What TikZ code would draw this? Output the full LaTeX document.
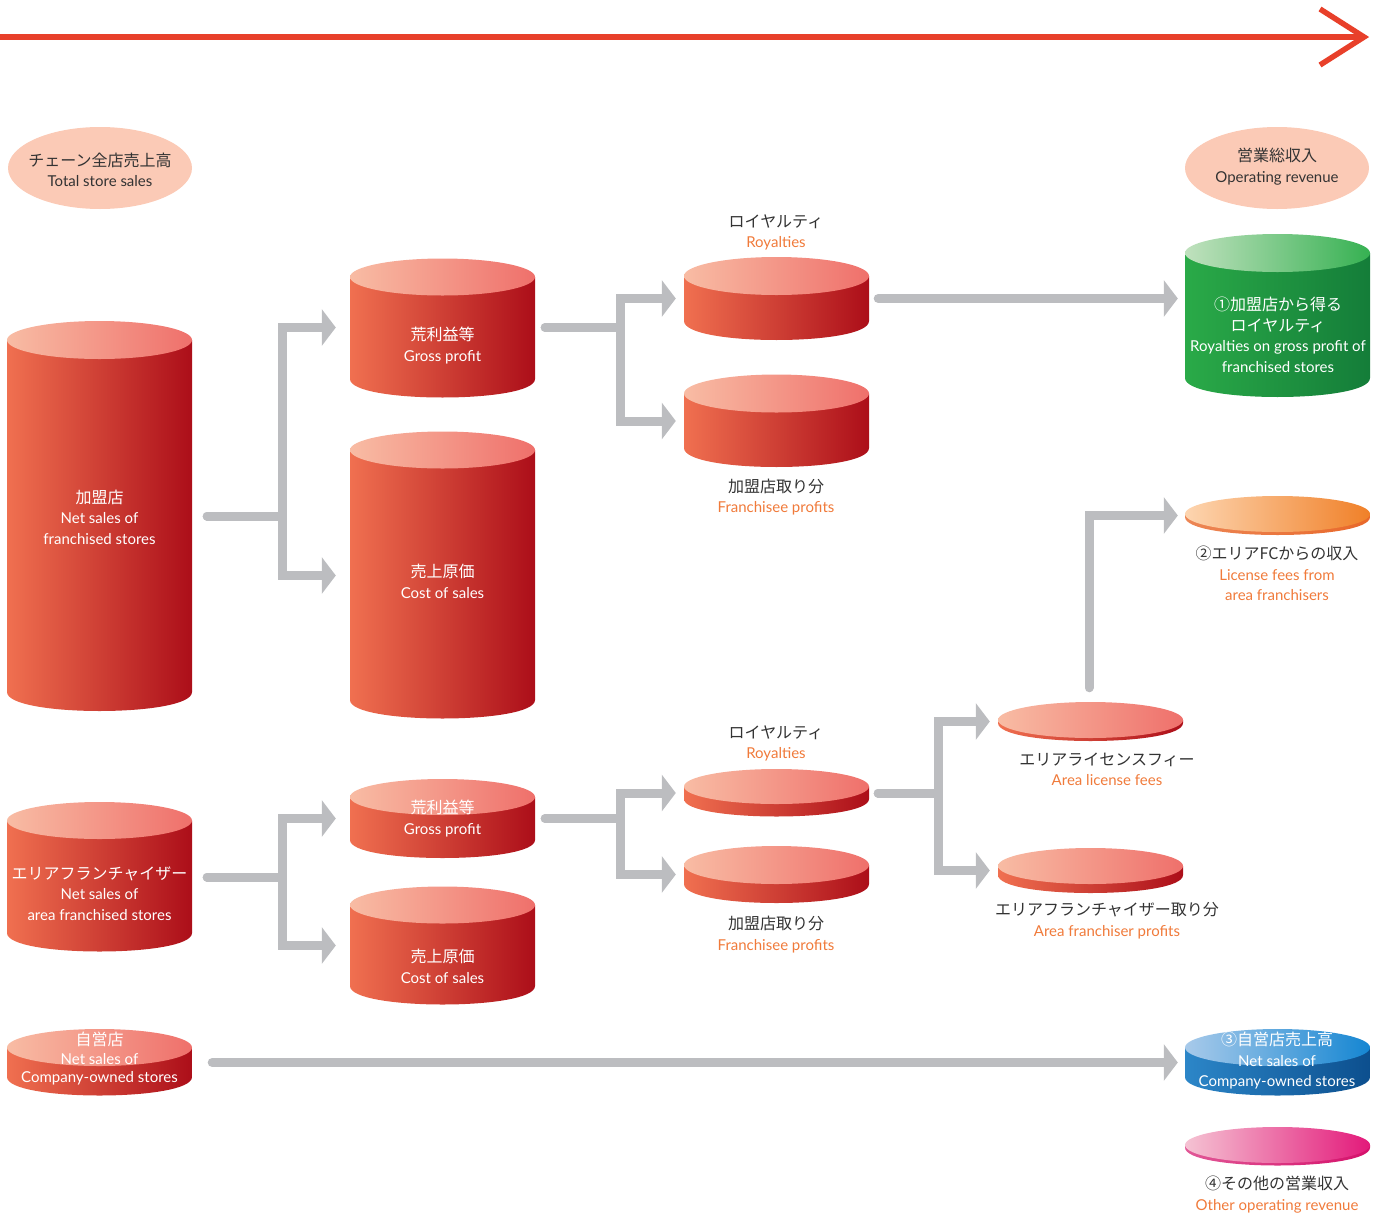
\documentclass[tikz,border=0pt]{standalone}
\usepackage{fontspec}
\setmainfont{Lato}
\newfontfamily\jp{Noto Sans CJK JP}
\usetikzlibrary{arrows.meta,shapes.geometric,calc}
\definecolor{redL}{HTML}{F07050}
\definecolor{redM}{HTML}{D6442F}
\definecolor{redR}{HTML}{AC0E19}
\definecolor{redTL}{HTML}{F8BCA4}
\definecolor{redTR}{HTML}{EF706B}
\definecolor{grnL}{HTML}{2AAA48}
\definecolor{grnR}{HTML}{147D39}
\definecolor{grnTL}{HTML}{C0E1BE}
\definecolor{grnTR}{HTML}{36B152}
\definecolor{bluL}{HTML}{2C86C8}
\definecolor{bluR}{HTML}{0C4F8E}
\definecolor{bluTL}{HTML}{A8CAEA}
\definecolor{bluTR}{HTML}{1586D2}
\definecolor{orTL}{HTML}{FDD5B0}
\definecolor{orTR}{HTML}{F08028}
\definecolor{orE}{HTML}{E8682A}
\definecolor{pkTL}{HTML}{F5C3D3}
\definecolor{pkTR}{HTML}{E3197A}
\definecolor{pkE}{HTML}{D4106A}
\definecolor{peach}{HTML}{FBCAB6}
\definecolor{cgray}{HTML}{BCBDC0}
\definecolor{topred}{HTML}{E8402A}
\definecolor{dark}{HTML}{333333}
\definecolor{orng}{HTML}{F07A3A}
\newcommand\jtxt[1]{{\jp\fontsize{16}{20}\selectfont #1}}
% #1 x0, #2 x1, #3 top centre y, #4 bottom side y, #5 ry, #6 body style, #7 top style
\newcommand\mycyl[7]{%
  \path[#6] ({#1},{#3}) -- ({#1},{#4}) .. controls ({#1},{#4+1.333*#5}) and ({#2},{#4+1.333*#5}) .. ({#2},{#4}) -- ({#2},{#3}) -- cycle;
  \path[#7] ({(#1+#2)/2},{#3}) ellipse [x radius={(#2-#1)/2}, y radius={#5}];
}
\begin{document}
\begin{tikzpicture}[x=1pt,y=-1pt,
  redbody/.style={left color=redL, middle color=redM, right color=redR},
  redtop/.style={left color=redTL, right color=redTR},
  grnbody/.style={left color=grnL, right color=grnR},
  grntop/.style={left color=grnTL, right color=grnTR},
  blubody/.style={left color=bluL, right color=bluR},
  blutop/.style={left color=bluTL, right color=bluTR},
  orbody/.style={left color=orE!80, right color=orE},
  ortop/.style={left color=orTL, right color=orTR},
  pkbody/.style={left color=pkE!70, right color=pkE},
  pktop/.style={left color=pkTL, right color=pkTR},
  shapebox/.style={inner sep=0, minimum width=185pt},
  lbl/.style={align=center, inner sep=0, font=\fontsize{15}{20.5}\selectfont},
  wlbl/.style={lbl, text=white},
  dlbl/.style={lbl, text=dark},
  peachell/.style={ellipse, fill=peach, minimum width=184pt, minimum height=82pt, inner sep=0},
  conn/.style={draw=cgray, line width=9pt, line cap=round, line join=miter, -{Triangle[length=14pt,width=36pt]}}
]
\useasboundingbox (0,0) rectangle (1384,1216);

% top arrow
\coordinate (ts) at (0,37);
\coordinate (te) at (1364,37);
\draw[topred, line width=5.5pt] (ts) -- (te);
\draw[topred, line width=5.5pt, line join=miter] (1320,9) -- (te) -- (1320,65);

% header ellipses
\node[peachell] (tot) at (100,168) {};
\node[dlbl] (ttot) at (100,170) {\jtxt{チェーン全店売上高}\\Total store sales};
\node[peachell] (opr) at (1277,168) {};
\node[dlbl] (topr) at (1277,166.5) {\jtxt{営業総収入}\\Operating revenue};

% shapes
\mycyl{7}{192}{340}{692}{19}{redbody}{redtop}
\node[shapebox, minimum height=390pt] (A) at (99.5,516) {};
\mycyl{350}{535}{277}{379}{18.5}{redbody}{redtop}
\node[shapebox, minimum height=139pt] (B) at (442.5,327.5) {};
\mycyl{350}{535}{450}{700}{18.5}{redbody}{redtop}
\node[shapebox, minimum height=287pt] (C) at (442.5,575.5) {};
\mycyl{684}{869}{276}{321}{19}{redbody}{redtop}
\node[shapebox, minimum height=83pt] (R1) at (776.5,298.5) {};
\mycyl{684}{869}{393.5}{448}{19}{redbody}{redtop}
\node[shapebox, minimum height=92pt] (F1) at (776.5,421) {};
\mycyl{1185}{1370}{253}{378}{19}{grnbody}{grntop}
\node[shapebox, minimum height=163pt] (Gr) at (1277.5,315.5) {};
\mycyl{1185}{1370}{514}{517}{18}{orbody}{ortop}
\node[shapebox, minimum height=39pt] (Or) at (1277.5,515.5) {};
\mycyl{7}{192}{820.5}{933}{18.5}{redbody}{redtop}
\node[shapebox, minimum height=150pt] (D) at (99.5,877) {};
\mycyl{350}{535}{797}{840}{18}{redbody}{redtop}
\node[shapebox, minimum height=79pt] (E) at (442.5,818.5) {};
\mycyl{350}{535}{905}{986}{18.5}{redbody}{redtop}
\node[shapebox, minimum height=117pt] (F) at (442.5,945.5) {};
\mycyl{7}{192}{1047.5}{1077}{18.5}{redbody}{redtop}
\node[shapebox, minimum height=67pt] (G) at (99.5,1062.5) {};
\mycyl{684}{869}{786.5}{799}{17.5}{redbody}{redtop}
\node[shapebox, minimum height=48pt] (R2) at (776.5,793) {};
\mycyl{684}{869}{865}{884}{19}{redbody}{redtop}
\node[shapebox, minimum height=57pt] (F2) at (776.5,874.5) {};
\mycyl{998}{1183}{720}{723}{18}{redbody}{redtop}
\node[shapebox, minimum height=39pt] (L) at (1090.5,721.5) {};
\mycyl{998}{1183}{866}{875}{18}{redbody}{redtop}
\node[shapebox, minimum height=45pt] (AF) at (1090.5,870.5) {};
\mycyl{1185}{1370}{1047.5}{1077}{18.5}{blubody}{blutop}
\node[shapebox, minimum height=67pt] (Bl) at (1277.5,1062.5) {};
\mycyl{1185}{1370}{1145}{1147.5}{18}{pkbody}{pktop}
\node[shapebox, minimum height=38pt] (Pk) at (1277.5,1146) {};

% labels
\node[wlbl] (tA) at (99.5,517) {\jtxt{加盟店}\\Net sales of\\franchised stores};
\node[wlbl] (tB) at (442.5,345.5) {\jtxt{荒利益等}\\Gross profit};
\node[wlbl] (tC) at (442.5,581.5) {\jtxt{売上原価}\\Cost of sales};
\node[dlbl] (tR1) at (776,232.5) {\jtxt{ロイヤルティ}\\\textcolor{orng}{Royalties}};
\node[dlbl] (tF1) at (776,497) {\jtxt{加盟店取り分}\\\textcolor{orng}{Franchisee profits}};
\node[wlbl] (tGr) at (1278,335) {\jtxt{①加盟店から得る}\\\jtxt{ロイヤルティ}\\Royalties on gross profit of\\franchised stores};
\node[dlbl] (tOr) at (1277,573.5) {\jtxt{②エリアFCからの収入}\\\textcolor{orng}{License fees from}\\\textcolor{orng}{area franchisers}};
\node[wlbl] (tD) at (99.5,893.5) {\jtxt{エリアフランチャイザー}\\Net sales of\\area franchised stores};
\node[wlbl] (tE) at (442.5,818.5) {\jtxt{荒利益等}\\Gross profit};
\node[wlbl] (tF) at (442.5,966.5) {\jtxt{売上原価}\\Cost of sales};
\node[wlbl, font=\fontsize{15}{18.5}\selectfont] (tG) at (99.5,1059) {\jtxt{自営店}\\Net sales of\\Company-owned stores};
\node[dlbl] (tR2) at (776,743.5) {\jtxt{ロイヤルティ}\\\textcolor{orng}{Royalties}};
\node[dlbl] (tF2) at (776,934.5) {\jtxt{加盟店取り分}\\\textcolor{orng}{Franchisee profits}};
\node[dlbl] (tL) at (1107,769.5) {\jtxt{エリアライセンスフィー}\\\textcolor{orng}{Area license fees}};
\node[dlbl] (tAF) at (1107,920.5) {\jtxt{エリアフランチャイザー取り分}\\\textcolor{orng}{Area franchiser profits}};
\node[wlbl] (tBl) at (1277,1061) {\jtxt{③自営店売上高}\\Net sales of\\Company-owned stores};
\node[dlbl] (tPk) at (1277,1194.5) {\jtxt{④その他の営業収入}\\\textcolor{orng}{Other operating revenue}};

% connectors
\coordinate (j1) at (282,0);
\coordinate (j2) at (620,0);
\coordinate (j7) at (938,0);
\draw[conn] ($(A.east)+(15,0)$) -- (j1 |- A.east) |- ($(B.west)+(-14,0)$);
\draw[conn] ($(A.east)+(15,0)$) -- (j1 |- A.east) |- ($(C.west)+(-14,0)$);
\draw[conn] ($(B.east)+(10,0)$) -- (j2 |- B.east) |- ($(R1.west)+(-8,0)$);
\draw[conn] ($(B.east)+(10,0)$) -- (j2 |- B.east) |- ($(F1.west)+(-8,0)$);
\draw[conn] ($(R1.east)+(9,0)$) -- ($(Gr.west |- R1.east)+(-7,0)$);
\draw[conn] ($(L.north)+(-1.5,-14)$) |- ($(Or.west)+(-7,0)$);
\draw[conn] ($(D.east)+(15,0)$) -- (j1 |- D.east) |- ($(E.west)+(-14,0)$);
\draw[conn] ($(D.east)+(15,0)$) -- (j1 |- D.east) |- ($(F.west)+(-14,0)$);
\draw[conn] ($(E.east)+(10,0)$) -- (j2 |- E.east) |- ($(R2.west)+(-8,0)$);
\draw[conn] ($(E.east)+(10,0)$) -- (j2 |- E.east) |- ($(F2.west)+(-8,0)$);
\draw[conn] ($(R2.east)+(9,0)$) -- (j7 |- R2.east) |- ($(L.west)+(-8,0)$);
\draw[conn] ($(R2.east)+(9,0)$) -- (j7 |- R2.east) |- ($(AF.west)+(-8,0)$);
\draw[conn] ($(G.east)+(20,0)$) -- ($(Bl.west |- G.east)+(-7,0)$);
\end{tikzpicture}
\end{document}
